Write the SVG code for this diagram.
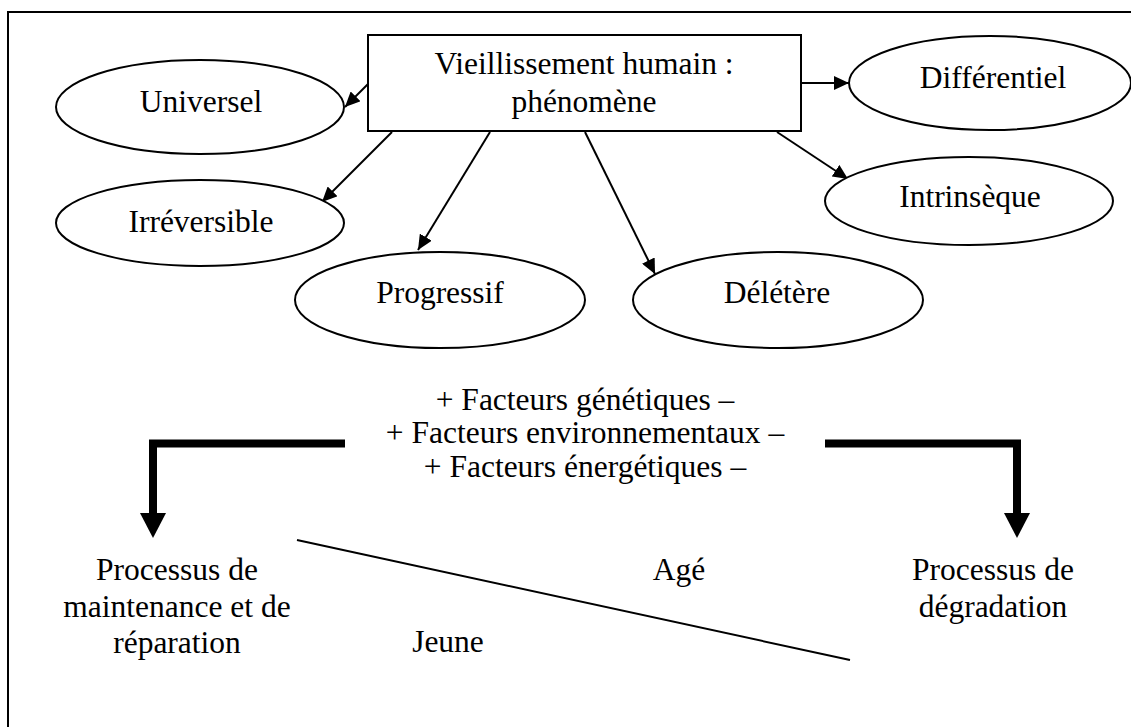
<svg xmlns="http://www.w3.org/2000/svg" width="1131" height="727" viewBox="0 0 1131 727">
<defs>
<marker id="ah" markerUnits="userSpaceOnUse" markerWidth="16" markerHeight="14" refX="15" refY="7" orient="auto">
<path d="M0,0 L15,7 L0,14 z" fill="#000"/>
</marker>
</defs>
<rect width="1131" height="727" fill="#fff"/>
<rect x="8" y="12" width="1200" height="800" fill="none" stroke="#000" stroke-width="2"/>
<g id="connectors" stroke="#000" fill="none">
<g stroke-width="2" marker-end="url(#ah)">
<line x1="368" y1="84" x2="345" y2="107"/>
<line x1="392" y1="132" x2="322" y2="202"/>
<line x1="490" y1="132" x2="418" y2="250"/>
<line x1="585" y1="132" x2="655" y2="274"/>
<line x1="777" y1="132" x2="848" y2="179"/>
<line x1="801" y1="83" x2="849" y2="83"/>
</g>
<path d="M345,443.5 H153 V515" stroke-width="8"/>
<polygon points="140,513 166,513 153,538" fill="#000" stroke="none"/>
<path d="M825,443.5 H1017 V515" stroke-width="8"/>
<polygon points="1004,513 1030,513 1017,538" fill="#000" stroke="none"/>
<line x1="297" y1="540" x2="850" y2="660" stroke-width="2"/>
</g>
<g fill="#fff" stroke="#000" stroke-width="2">
<rect id="center-box" x="368" y="35" width="433" height="96"/>
<ellipse id="universel-shape" cx="200" cy="107" rx="144" ry="47"/>
<ellipse id="irreversible-shape" cx="200" cy="223" rx="144" ry="43"/>
<ellipse id="progressif-shape" cx="440" cy="300" rx="145" ry="48"/>
<ellipse id="deletere-shape" cx="778" cy="300" rx="145" ry="48"/>
<ellipse id="intrinseque-shape" cx="969" cy="201" rx="144" ry="44"/>
<ellipse id="differentiel-shape" cx="990" cy="83" rx="141" ry="47"/>
</g>
<g font-family="Liberation Serif" font-size="31.5" text-anchor="middle" fill="#000">
<g id="center">
<text x="584" y="74">Vieillissement humain :</text>
<text x="584" y="112">phénomène</text>
</g>
<g id="universel"><text x="201" y="112">Universel</text></g>
<g id="irreversible"><text x="201" y="232">Irréversible</text></g>
<g id="progressif"><text x="440" y="303">Progressif</text></g>
<g id="deletere"><text x="777" y="303">Délétère</text></g>
<g id="intrinseque"><text x="970" y="207">Intrinsèque</text></g>
<g id="differentiel"><text x="993" y="88">Différentiel</text></g>
<g id="facteurs">
<text x="585" y="410">+ Facteurs génétiques –</text>
<text x="585" y="443">+ Facteurs environnementaux –</text>
<text x="585" y="477">+ Facteurs énergétiques –</text>
</g>
<g id="maintenance">
<text x="177" y="580">Processus de</text>
<text x="177" y="617">maintenance et de</text>
<text x="177" y="653">réparation</text>
</g>
<g id="degradation">
<text x="993" y="580">Processus de</text>
<text x="993" y="617">dégradation</text>
</g>
<g id="labels">
<text x="679" y="580">Agé</text>
<text x="448" y="652">Jeune</text>
</g>
</g>
</svg>
